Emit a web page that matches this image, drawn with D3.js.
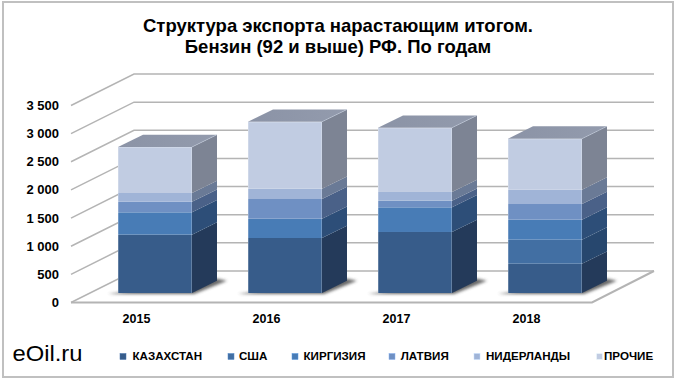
<!DOCTYPE html>
<html><head><meta charset="utf-8">
<script src="https://d3js.org/d3.v7.min.js"></script>
<style>html,body{margin:0;padding:0;background:#fff}svg{display:block}text{font-family:"Liberation Sans",Arial,sans-serif;fill:#000}</style>
</head><body><svg id="c" width="680" height="384"></svg>
<script>
const titleLines = ["Структура экспорта нарастающим итогом.", "Бензин (92 и выше) РФ. По годам"];
const years = ["2015", "2016", "2017", "2018"];
const seriesNames = ["КАЗАХСТАН", "США", "КИРГИЗИЯ", "ЛАТВИЯ", "НИДЕРЛАНДЫ", "ПРОЧИЕ"];
const kazakhstan = [1037, 977, 1084, 521];
const usa = [0, 0, 0, 427];
const kirgizia = [396, 343, 438, 355];
const latvia = [189, 350, 118, 278];
const netherlands = [155, 183, 155, 255];
const others = [817, 1190, 1142, 906];
const tickValues = [0, 500, 1000, 1500, 2000, 2500, 3000, 3500];
const tickLabels = ["0", "500", "1 000", "1 500", "2 000", "2 500", "3 000", "3 500"];
const frontColors = ["#375c8a", "#426fa3", "#487cb6", "#6f90c3", "#a0b4d7", "#c1cce2"];
const sideColors = ["#243a5a", "#27476e", "#2d4e78", "#4a6188", "#6a7a96", "#7d8494"];
const legendTextX = [132.5, 239, 303.5, 400.7, 486, 604];
const legendMarkX = [120, 228, 292, 389, 474, 596.5];

const seriesValues = [kazakhstan, usa, kirgizia, latvia, netherlands, others];
const svg = d3.select("#c");
const defs = svg.append("defs");
defs.append("filter").attr("id", "blur").attr("x", "-30%").attr("y", "-100%").attr("width", "160%").attr("height", "300%")
  .append("feGaussianBlur").attr("stdDeviation", 1.6);
const topGrad = defs.append("linearGradient").attr("id", "topG").attr("x1", 0).attr("x2", 1).attr("y1", 0).attr("y2", 0);
topGrad.append("stop").attr("offset", "0").attr("stop-color", "#8b93a6");
topGrad.append("stop").attr("offset", "1").attr("stop-color", "#939bad");

// frame
svg.append("rect").attr("x", 3).attr("y", 2).attr("width", 670).attr("height", 375)
  .attr("fill", "#fff").attr("stroke", "#c0c0c0").attr("stroke-width", 2);

// scales
const yWall = d3.scaleLinear().domain([0, 3500]).range([271, 74]);
const x = d3.scaleBand().domain(years).range([118, 582]).paddingInner(56 / 130).paddingOuter(0);
const depthX = 25, depthY = 12.3, baseDrop = 22;
const yBar = v => yWall(v) + baseDrop;
const wallLeft = 134, wallRight = 654, frontLeft = 71, frontRight = 592, wallDrop = 31.5;
const grid = svg.append("g").attr("fill", "none").attr("stroke", "#b4b4b4").attr("stroke-width", 1.5);

// walls and floor
tickValues.forEach(t => {
  const y = yWall(t);
  grid.append("path").attr("d", d3.line()([[frontLeft, y + wallDrop], [wallLeft, y], [wallRight, y]]));
});
grid.append("path").attr("stroke-width", 2).attr("d", d3.line()([[frontLeft, yWall(0) + wallDrop], [frontRight, yWall(0) + wallDrop], [wallRight, yWall(0)]]));

// y axis labels
const ax = svg.append("g").attr("font-size", 13).attr("font-weight", "bold").attr("text-anchor", "end");
tickValues.forEach((t, i) => {
  ax.append("text").attr("x", 59).attr("y", yWall(t) + wallDrop + 4.5).text(tickLabels[i]);
});

// bars
const stacked = d3.stack().keys(d3.range(seriesNames.length)).value((row, k) => row[k])(years.map((_, i) => seriesValues.map(s => s[i])));
years.forEach((yr, i) => {
  const g = svg.append("g");
  const x0 = x(yr), x1 = x0 + x.bandwidth();
  const base = yBar(0);
  // floor shadow
  g.append("path").attr("fill", "#444").attr("opacity", .8).attr("filter", "url(#blur)")
    .attr("d", d3.line()([[x0 - 10, base + 1], [x1 + 2, base + 1], [x1 + depthX + 10, base - depthY], [x1 + depthX, base - depthY - 2]]) + "Z");
  stacked.forEach((layer, s) => {
    const [lo, hi] = layer[i];
    if (hi - lo <= 0) return;
    const yLo = yBar(lo), yHi = yBar(hi);
    g.append("path").attr("fill", sideColors[s])
      .attr("d", d3.line()([[x1, yLo], [x1 + depthX, yLo - depthY], [x1 + depthX, yHi - depthY], [x1, yHi]]) + "Z");
    g.append("rect").attr("x", x0).attr("y", yHi).attr("width", x.bandwidth()).attr("height", yLo - yHi)
      .attr("fill", frontColors[s]);
  });
  const total = stacked[stacked.length - 1][i][1];
  const yT = yBar(total);
  g.append("path").attr("fill", "url(#topG)")
    .attr("d", d3.line()([[x0, yT], [x0 + depthX, yT - depthY], [x1 + depthX, yT - depthY], [x1, yT]]) + "Z");
  // soft bevel edges
  g.append("path").attr("fill", "none").attr("stroke", "#fff").attr("stroke-opacity", .22).attr("stroke-width", 1)
    .attr("d", d3.line()([[x0 + .5, base], [x0 + .5, yT + .5], [x1 - .5, yT + .5], [x1 - .5, base]]));
  g.append("path").attr("fill", "none").attr("stroke", "#c8d2e4").attr("stroke-opacity", .45).attr("stroke-width", 1)
    .attr("d", d3.line()([[x1, yT], [x1 + depthX, yT - depthY]]));
  // category label
  svg.append("text").attr("x", x0 + x.bandwidth() / 2 - 18.5).attr("y", 322.5)
    .attr("text-anchor", "middle").attr("font-size", 12.5).attr("font-weight", "bold").text(yr);
});

// title
const ti = svg.append("g").attr("text-anchor", "middle").attr("font-size", 18.5).attr("font-weight", "bold");
titleLines.forEach((l, i) => ti.append("text").attr("x", 338).attr("y", 32 + i * 21).text(l));

// legend
seriesNames.forEach((n, i) => {
  svg.append("rect").attr("x", legendMarkX[i]).attr("y", 353.5).attr("width", 6).attr("height", 6)
    .attr("fill", frontColors[i]).attr("stroke", d3.color(frontColors[i]).brighter(.6)).attr("stroke-width", .5);
  svg.append("text").attr("x", legendTextX[i]).attr("y", 360).attr("font-size", 11.6).attr("font-weight", "bold").text(n);
});
svg.append("text").attr("x", 12.5).attr("y", 361).attr("font-size", 22).attr("textLength", 70).attr("lengthAdjust", "spacingAndGlyphs").text("eOil.ru");
</script></body></html>
